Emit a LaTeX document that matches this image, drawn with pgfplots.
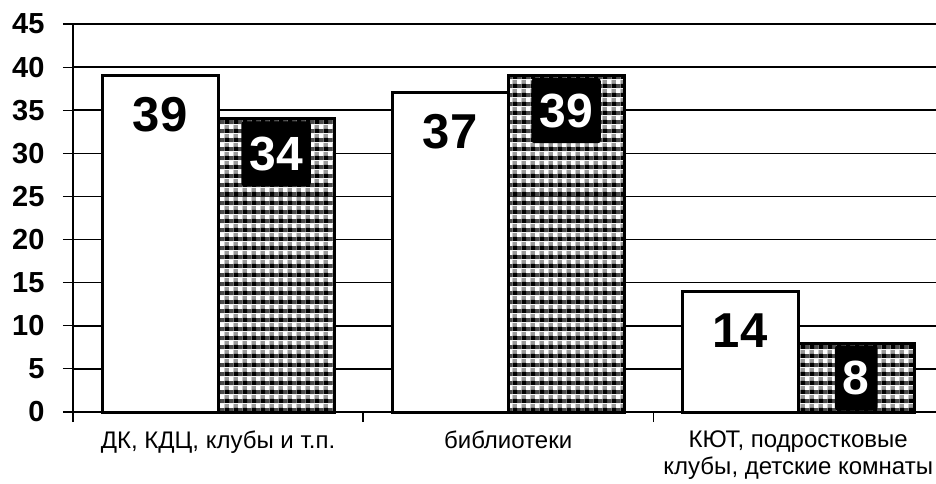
\documentclass[border=0pt]{standalone}
\usepackage{fontspec}
\setmainfont{Liberation Sans}
\usepackage{pgfplots}
\pgfplotsset{compat=1.18}
\usetikzlibrary{patterns}
\pgfdeclarepatterninherentlycolored{checkgray}{\pgfpointorigin}{\pgfpoint{9pt}{9pt}}{\pgfpoint{9pt}{9pt}}{%
  \pgfsetfillcolor{black!40}\pgfpathrectangle{\pgfpointorigin}{\pgfpoint{9pt}{9pt}}\pgfusepath{fill}%
  \pgfsetfillcolor{black!70}\pgfpathrectangle{\pgfpoint{4.5pt}{0pt}}{\pgfpoint{4.5pt}{4.5pt}}\pgfusepath{fill}%
  \pgfsetfillcolor{black}\pgfpathrectangle{\pgfpointorigin}{\pgfpoint{4.5pt}{4.5pt}}\pgfusepath{fill}%
  \pgfsetfillcolor{white}\pgfpathrectangle{\pgfpoint{4.5pt}{4.5pt}}{\pgfpoint{4.5pt}{4.5pt}}\pgfusepath{fill}%
}
\begin{document}
\begin{tikzpicture}
\begin{axis}[
  name=ax,
  scale only axis,
  width=863pt, height=388pt,
  xmin=-0.5, xmax=2.475,
  ymin=0, ymax=45,
  axis lines*=left,
  axis line style={line width=1.5pt},
  ytick={0,5,...,45},
  yticklabel={\fontsize{29}{29}\selectfont\bfseries\pgfmathprintnumber[assume math mode=true]{\tick}\hspace*{15pt}},
  xtick={-0.5,0.5,1.5},
  xticklabels={},
  extra x ticks={0,1,2},
  extra x tick labels={{ДК, КДЦ, клубы и т.п.},{библиотеки},{КЮТ, подростковые\\клубы, детские комнаты}},
  extra x tick style={major tick length=0pt, grid=none},
  x tick label style={font=\fontsize{24}{27}\selectfont, align=center, yshift=-15pt},
  tick align=outside,
  major tick length=10pt,
  tick style={line width=1.2pt, black},
  ymajorgrids,
  grid style={black, line width=1.5pt},
  ybar=0pt,
  bar width=0.4,
  clip=false,
  /pgf/number format/assume math mode=true,
]
\addplot[draw=black, line width=3pt, fill=white, bar shift=-0.2,
  nodes near coords,
  every node near coord/.append style={anchor=center, yshift=-39pt, text=black, font=\fontsize{49}{49}\selectfont\bfseries}]
  coordinates {(0,39) (1,37) (2,14)};
\addplot[draw=black, line width=3pt, pattern=checkgray, bar shift=0.2,
  nodes near coords,
  every node near coord/.append style={anchor=center, yshift=-35pt, text=white, fill=black, rounded corners=3pt, inner xsep=8pt, minimum height=65pt, font=\fontsize{48}{48}\selectfont\bfseries}]
  coordinates {(0,34) (1,39) (2,8)};
\end{axis}
\pgfresetboundingbox
\path (ax.south west) ++(-73pt,-71pt) rectangle ++(936pt,483pt);
\end{tikzpicture}
\end{document}
